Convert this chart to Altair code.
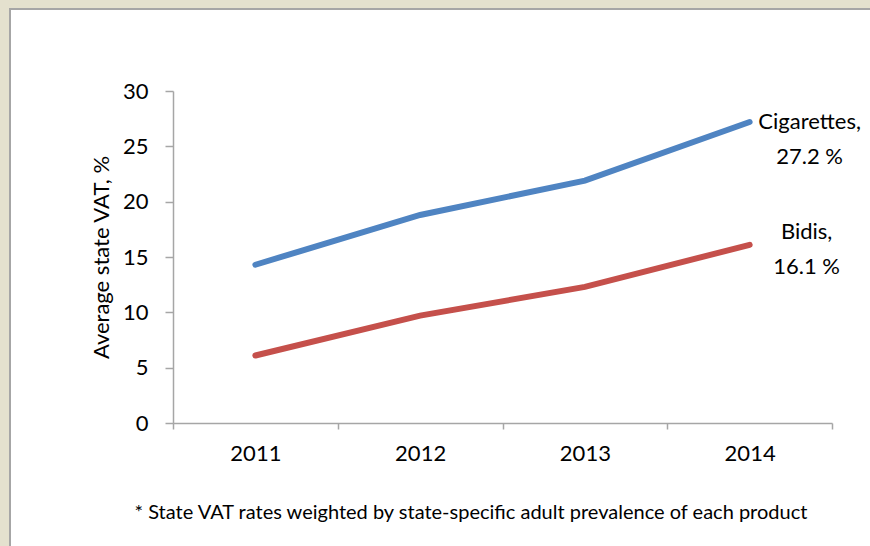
import altair as alt
import pandas as pd

# Average state VAT on tobacco products, weighted by adult prevalence
years = ["2011", "2012", "2013", "2014"]
cigarettes = [14.3, 18.8, 21.9, 27.2]
bidis = [6.1, 9.7, 12.3, 16.1]
series_names = ["Cigarettes", "Bidis"]
series_colors = ["#4F84C2", "#C5504B"]
y_ticks = [0, 5, 10, 15, 20, 25, 30]
footnote = "* State VAT rates weighted by state-specific adult prevalence of each product"

rows = []
for name, vals in zip(series_names, [cigarettes, bidis]):
    for yr, v in zip(years, vals):
        rows.append({"year": yr, "value": v, "series": name})
df = pd.DataFrame(rows)

FONT = "Lato"
AXIS_GRAY = "#A6A6A6"
LABEL_SIZE = 22

x_enc = alt.X(
    "year:O",
    scale=alt.Scale(type="band", paddingInner=0, paddingOuter=0),
    axis=alt.Axis(
        title=None,
        labelAngle=0,
        tickBand="extent",
        tickSize=6,
        tickColor=AXIS_GRAY,
        tickWidth=1.5,
        domainColor=AXIS_GRAY,
        domainWidth=1.5,
        labelFont=FONT,
        labelFontSize=LABEL_SIZE,
        labelColor="#000000",
        labelPadding=14,
        zindex=1,
    ),
)
y_enc = alt.Y(
    "value:Q",
    scale=alt.Scale(domain=[0, 30], nice=False),
    axis=alt.Axis(
        title="Average state VAT, %",
        titleFont=FONT,
        titleFontSize=LABEL_SIZE,
        titleFontWeight="normal",
        titleColor="#000000",
        titlePadding=9,
        values=y_ticks,
        grid=False,
        tickSize=8,
        tickColor=AXIS_GRAY,
        tickWidth=1.5,
        domainColor=AXIS_GRAY,
        domainWidth=1.5,
        labelFont=FONT,
        labelFontSize=LABEL_SIZE,
        labelColor="#000000",
        labelPadding=17,
        zindex=1,
    ),
)
color_enc = alt.Color(
    "series:N",
    scale=alt.Scale(domain=series_names, range=series_colors),
    legend=None,
)

# white panel with a thin gray frame over the beige page background
panel = alt.Chart(pd.DataFrame({"p": [0]})).mark_rect(
    fill="#FFFFFF", stroke="#A6A6A6", strokeWidth=2
).encode(
    x=alt.value(-163), x2=alt.value(720),
    y=alt.value(-82), y2=alt.value(480),
)

lines = alt.Chart(df).mark_line(strokeWidth=6, strokeCap="round").encode(
    x=x_enc, y=y_enc, color=color_enc
)

last = df[df["year"] == years[-1]]


def end_label(series, dx, dy):
    return alt.Chart(last[last["series"] == series]).transform_calculate(
        label="[datum.series + ',', format(datum.value, '.1f') + ' %']"
    ).mark_text(
        font=FONT, fontSize=LABEL_SIZE, color="#000000", align="center",
        baseline="middle", lineHeight=35, dx=dx, dy=dy,
    ).encode(x=alt.X("year:O"), y=alt.Y("value:Q"), text="label:N")


cig_label = end_label("Cigarettes", 60, 0)
bidi_label = end_label("Bidis", 57, -13)

# footnote below the axis
note = alt.Chart(pd.DataFrame({"note": [footnote]})).mark_text(
    font=FONT, fontSize=20, color="#000000", align="center", baseline="middle",
).encode(text="note:N", x=alt.value(298), y=alt.value(422))

chart = alt.layer(panel, lines, cig_label, bidi_label, note).properties(
    width=659,
    height=332,
    background="#E4E1CE",
    padding={"left": 173, "top": 91, "right": 38, "bottom": 123},
    autosize=alt.AutoSizeParams(type="none"),
).configure_view(stroke=None)

chart.save("out.html", embed_options={"renderer": "svg", "actions": False})
